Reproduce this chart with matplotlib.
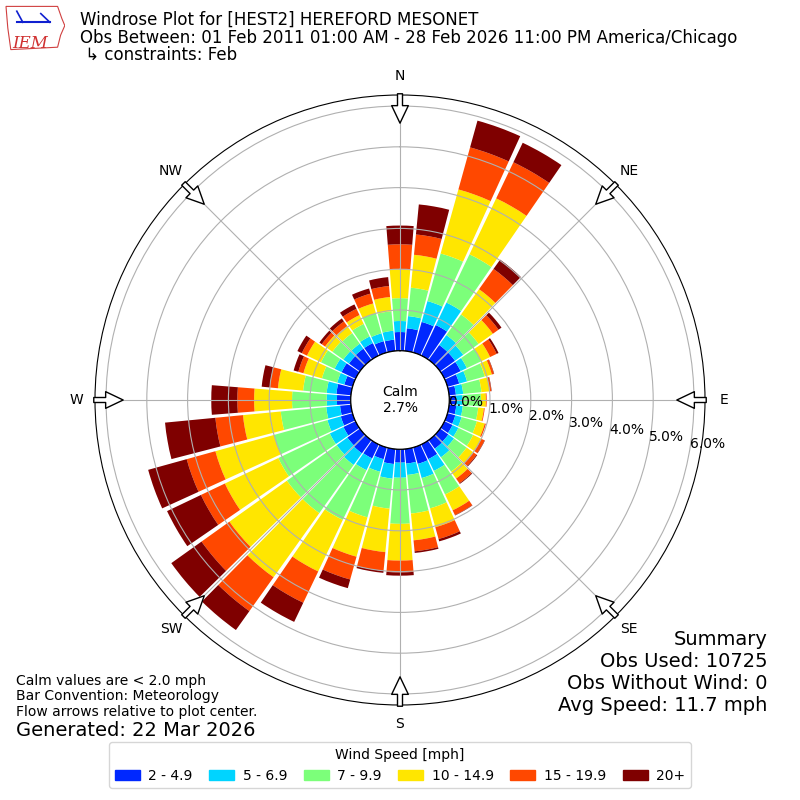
import numpy as np
import matplotlib

matplotlib.use("Agg")
import matplotlib.pyplot as plt
from matplotlib.patches import Rectangle, Polygon

# wind direction bins (deg, meteorological) and speed classes
directions = np.arange(0, 360, 10)
speed_labels = ["2 - 4.9", "5 - 6.9", "7 - 9.9", "10 - 14.9", "15 - 19.9", "20+"]
speed_colors = ["#0028ff", "#00d4ff", "#7cff7a", "#ffe600", "#ff4800", "#7f0000"]

# percent of obs per direction for each speed class
pct_2_5 = [0.46, 0.56, 0.78, 0.83, 0.45, 0.45, 0.44, 0.30, 0.17, 0.17, 0.18, 0.20,
           0.22, 0.25, 0.26, 0.40, 0.42, 0.36, 0.33, 0.37, 0.30, 0.38, 0.40, 0.38,
           0.33, 0.30, 0.27, 0.34, 0.36, 0.21, 0.38, 0.33, 0.34, 0.34, 0.29, 0.28]
pct_5_7 = [0.27, 0.30, 0.53, 0.61, 0.30, 0.25, 0.17, 0.20, 0.18, 0.16, 0.16, 0.16,
           0.16, 0.17, 0.26, 0.32, 0.36, 0.28, 0.37, 0.36, 0.32, 0.32, 0.35, 0.32,
           0.37, 0.34, 0.34, 0.25, 0.24, 0.18, 0.19, 0.17, 0.15, 0.18, 0.20, 0.22]
pct_7_10 = [0.56, 0.70, 1.21, 1.31, 0.62, 0.46, 0.39, 0.45, 0.45, 0.45, 0.38, 0.39,
            0.40, 0.38, 0.43, 0.64, 0.77, 0.95, 1.13, 0.74, 1.16, 1.35, 1.45, 1.50,
            1.40, 1.36, 1.12, 0.85, 0.58, 0.39, 0.37, 0.33, 0.32, 0.34, 0.51, 0.48]
pct_10_15 = [0.71, 0.81, 1.63, 1.52, 0.76, 0.43, 0.24, 0.18, 0.20, 0.12, 0.14, 0.20,
             0.22, 0.20, 0.21, 0.43, 0.48, 0.66, 0.90, 1.07, 1.00, 1.40, 1.93, 1.73,
             1.45, 1.49, 0.93, 0.93, 0.62, 0.47, 0.38, 0.22, 0.21, 0.24, 0.25, 0.35]
pct_15_20 = [0.61, 0.50, 1.07, 0.98, 0.61, 0.17, 0.18, 0.05, 0.04, 0.02, 0.02, 0.03,
             0.09, 0.10, 0.14, 0.13, 0.30, 0.27, 0.29, 0.46, 0.58, 0.85, 1.02, 0.84,
             0.65, 0.73, 0.68, 0.41, 0.20, 0.13, 0.14, 0.10, 0.14, 0.17, 0.25, 0.27]
pct_20_up = [0.46, 0.74, 0.68, 0.53, 0.28, 0.09, 0.05, 0.01, 0.01, 0.00, 0.00, 0.00,
             0.01, 0.02, 0.02, 0.01, 0.06, 0.04, 0.08, 0.05, 0.22, 0.52, 0.57, 0.91,
             0.92, 0.98, 1.24, 0.64, 0.20, 0.12, 0.12, 0.07, 0.09, 0.12, 0.13, 0.22]

calm_pct = 2.7
ring_values = [0, 1, 2, 3, 4, 5, 6]
compass_angles = [0, 45, 90, 135, 180, 225, 270, 315]
compass_names = ["N", "NE", "E", "SE", "S", "SW", "W", "NW"]


def main():
    fig = plt.figure(figsize=(8, 8), dpi=100)
    ax = fig.add_axes([0.11875, 0.11875, 0.7625, 0.7625], projection="polar")
    ax.set_theta_zero_location("N")
    ax.set_theta_direction(-1)
    ax.set_rorigin(-1.206)
    ax.set_ylim(0, 6.27)

    theta = np.deg2rad(directions)
    width = np.deg2rad(9.0)
    bottom = np.zeros(len(directions))
    for vals, color in zip([pct_2_5, pct_5_7, pct_7_10, pct_10_15, pct_15_20, pct_20_up],
                           speed_colors):
        vals = np.array(vals)
        ax.bar(theta, vals, width=width, bottom=bottom, color=color, linewidth=0)
        bottom = bottom + vals

    # calm circle
    circ = np.linspace(0, 2 * np.pi, 361)
    ax.plot(circ, np.zeros_like(circ), color="black", lw=1, zorder=4)
    ax.text(0, -1.206, f"Calm\n{calm_pct:.1f}%", ha="center", va="center", fontsize=10, zorder=5)

    # grid
    ax.set_yticks(ring_values[1:])
    ax.set_yticklabels([])
    ax.set_xticks(np.deg2rad(compass_angles))
    ax.set_xticklabels([])
    ax.grid(True, color="#b0b0b0", lw=0.8)
    for v in ring_values:
        ax.text(np.deg2rad(100), v, f"{v:.1f}%", ha="left", va="bottom", fontsize=10, zorder=6)

    # compass labels and flow arrows
    for ang, name in zip(compass_angles, compass_names):
        t = np.deg2rad(ang)
        ax.text(t, 6.73, name, ha="center", va="center", fontsize=10)
        ax.annotate("", xy=(t, 5.58), xytext=(t, 6.30), xycoords="data",
                    arrowprops=dict(arrowstyle="simple,head_length=1.05,head_width=1.0,tail_width=0.3",
                                    fc="white", ec="black", lw=1, shrinkA=0, shrinkB=0,
                                    mutation_scale=12),
                    annotation_clip=False, zorder=7)

    # header
    fig.text(0.1, 0.975, "Windrose Plot for [HEST2] HEREFORD MESONET", fontsize=12, va="center")
    fig.text(0.1, 0.9525, "Obs Between: 01 Feb 2011 01:00 AM - 28 Feb 2026 11:00 PM America/Chicago",
             fontsize=12, va="center")
    fig.text(0.1, 0.931, " \u21b3 constraints: Feb", fontsize=12, va="center")

    # rough IEM logo
    lax = fig.add_axes([0.006, 0.935, 0.075, 0.06])
    lax.set_xlim(0, 1)
    lax.set_ylim(0, 1)
    lax.axis("off")
    iowa = [(0.02, 0.95), (0.88, 0.95), (0.95, 0.7), (1.0, 0.55), (0.93, 0.35),
            (0.88, 0.1), (0.1, 0.05), (0.05, 0.5)]
    lax.add_patch(Polygon(iowa, closed=True, fill=False, ec="#d04040", lw=0.8))
    lax.plot([0.2, 0.75], [0.62, 0.62], color="#1020d0", lw=1.5)
    lax.plot([0.2, 0.3], [0.85, 0.62], color="#1020d0", lw=1.2)
    lax.plot([0.6, 0.75], [0.8, 0.62], color="#1020d0", lw=1.2)
    lax.text(0.12, 0.08, "IEM", color="#d03030", fontsize=12, family="serif", style="italic")

    # summary
    fig.text(0.959, 0.2125, "Summary\nObs Used: 10725\nObs Without Wind: 0\nAvg Speed: 11.7 mph",
             ha="right", va="top", fontsize=14, linespacing=1.2)

    fig.text(0.02, 0.158, "Calm values are < 2.0 mph\nBar Convention: Meteorology\n"
             "Flow arrows relative to plot center.", ha="left", va="top", fontsize=10,
             linespacing=1.15)
    fig.text(0.02, 0.0875, "Generated: 22 Mar 2026", ha="left", va="center", fontsize=14)

    handles = [Rectangle((0, 0), 1, 1, color=c) for c in speed_colors]
    fig.legend(handles, speed_labels, loc="lower center", bbox_to_anchor=(0.5, 0.006), ncol=6,
               title="Wind Speed [mph]", fontsize=10, title_fontsize=10,
               handlelength=1.8, handletextpad=0.6, columnspacing=1.2)

    fig.savefig("out.png", dpi=100)
    plt.close(fig)


if __name__ == "__main__":
    main()
